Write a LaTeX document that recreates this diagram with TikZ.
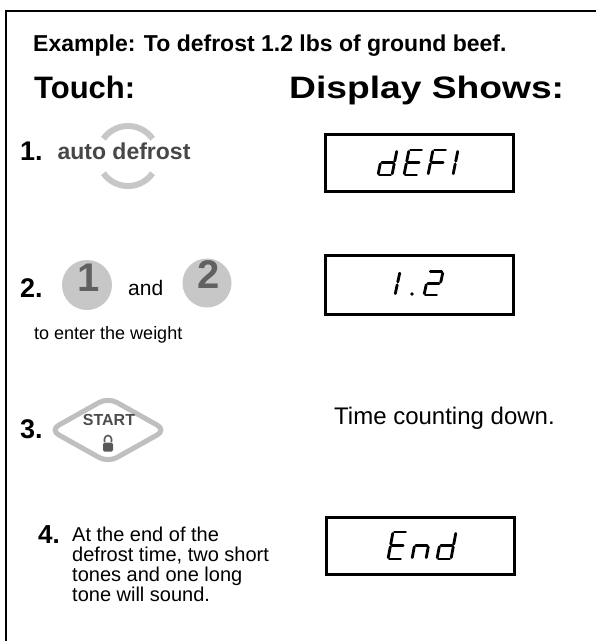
\documentclass[tikz,border=0pt]{standalone}
\usepackage{fontspec}
\setmainfont{Liberation Sans}
\usetikzlibrary{shapes.geometric}
\tikzset{
  frame/.style={line width=2.6pt},
  hdr/.style={font=\bfseries\fontsize{23}{26}\selectfont, anchor=base west, inner sep=0},
  ttl/.style={font=\bfseries\fontsize{31}{34}\selectfont, anchor=base west, inner sep=0},
  num/.style={font=\bfseries\fontsize{27}{30}\selectfont, anchor=base west, inner sep=0},
  body/.style={font=\fontsize{21}{21}\selectfont, anchor=base west, inner sep=0},
  dispbox/.style={draw, line width=3pt, minimum width=188pt, minimum height=57pt, inner sep=0},
  seg/.style={line width=2.8pt, line cap=round, shorten >=1.4pt, shorten <=1.4pt},
  keyfill/.style={fill=black!22, draw=none},
  keytext/.style={text=black!62},
  keyarc/.style={line width=6pt, draw=black!22},
}
\newcommand\segA{\draw[seg] (5,-25)--(19,-25);}
\newcommand\segB{\draw[seg] (19,-25)--(16.5,-12.5);}
\newcommand\segC{\draw[seg] (16.5,-12.5)--(14,0);}
\newcommand\segD{\draw[seg] (0,0)--(14,0);}
\newcommand\segE{\draw[seg] (2.5,-12.5)--(0,0);}
\newcommand\segF{\draw[seg] (5,-25)--(2.5,-12.5);}
\newcommand\segG{\draw[seg] (2.5,-12.5)--(16.5,-12.5);}
\begin{document}
\begin{tikzpicture}[x=1pt,y=-1pt]
\useasboundingbox (0,0) rectangle (596,641);
\fill[white] (0,0) rectangle (596,641);
% frame
\draw[frame] (6,641) -- (6,11) -- (596,11);
% headings
\node[hdr] (ex) at (33,51) {Example: To defrost 1.2 lbs of ground beef.};
\node[ttl] (touch) at (34,98) {Touch:};
\node[ttl] (disp) at (289,98) {\scalebox{1.2}[1]{Display Shows:}};
% step 1
\node[num] (n1) at (20,160) {1.};
\draw[keyarc] (128,156) ++(35:30pt) arc[start angle=35,end angle=145,radius=30pt];
\draw[keyarc] (128,156) ++(215:30pt) arc[start angle=215,end angle=325,radius=30pt];
\node[font=\bfseries\fontsize{23}{24}\selectfont, text=black!72, anchor=base, inner sep=0] (ad) at (124,159) {auto defrost};
\node[dispbox] (b1) at (419,162.5) {};
\begin{scope}[shift={(378,175)}] \segB\segC\segD\segE\segG \end{scope}
\begin{scope}[shift={(404,175)}] \segA\segD\segE\segF\segG \end{scope}
\begin{scope}[shift={(428,175)}] \segA\segE\segF\segG \end{scope}
\begin{scope}[shift={(439,175)}] \segB\segC \end{scope}
% step 2
\node[num] (n2) at (20,297) {2.};
\node[circle, keyfill, minimum size=50pt, inner sep=0] (k1) at (87,285) {};
\node[font=\bfseries\fontsize{40}{40}\selectfont, keytext, inner sep=0] (k1t) at (89,278) {1};
\node[body] (and) at (128,295) {and};
\node[circle, keyfill, minimum size=49pt, inner sep=0] (k2) at (207,283) {};
\node[font=\bfseries\fontsize{40}{40}\selectfont, keytext, inner sep=0] (k2t) at (209,275) {2};
\node[body, font=\fontsize{18}{18}\selectfont] (tew) at (34,339) {to enter the weight};
\node[dispbox, minimum height=59pt] (b2) at (419,285) {};
\begin{scope}[shift={(381,295)},yscale=0.93] \segB\segC \end{scope}
\fill (412,294) circle[radius=1.8pt];
\begin{scope}[shift={(424,295)},yscale=0.93] \segA\segB\segG\segE\segD \end{scope}
% step 3
\node[num] (n3) at (20,438) {3.};
\node[diamond, draw=black!25, line width=5pt, rounded corners=10pt, minimum width=118pt, minimum height=67pt, inner sep=0] (st) at (108,430) {};
\node[font=\bfseries\fontsize{16}{16}\selectfont, text=black!70, inner sep=0] (stt) at (109,420) {START};
\draw[line width=1.6pt, black!65] (104.5,442) -- (104.5,439) arc[start angle=180,end angle=0,radius=3.5pt] -- (111.5,442);
\node[fill=black!65, rounded corners=1.5pt, minimum width=10pt, minimum height=9pt, inner sep=0] (lock) at (108,447) {};
\node[body, font=\fontsize{24}{24}\selectfont] (tcd) at (334,424) {Time counting down.};
% step 4
\node[num, font=\bfseries\fontsize{26}{28}\selectfont] (n4) at (38,543) {4.};
\node[font=\fontsize{20}{20}\selectfont, align=left, anchor=north west, inner sep=0] (l4) at (72,526.5)
  {At the end of the\\defrost time, two short\\tones and one long\\tone will sound.};
\node[dispbox] (b3) at (420,546) {};
\begin{scope}[shift={(388,559)},yscale=1.08] \segA\segD\segE\segF\segG \end{scope}
\begin{scope}[shift={(412,559)},yscale=1.08] \segC\segE\segG \end{scope}
\begin{scope}[shift={(437,559)},yscale=1.08] \segB\segC\segD\segE\segG \end{scope}
\end{tikzpicture}
\end{document}
